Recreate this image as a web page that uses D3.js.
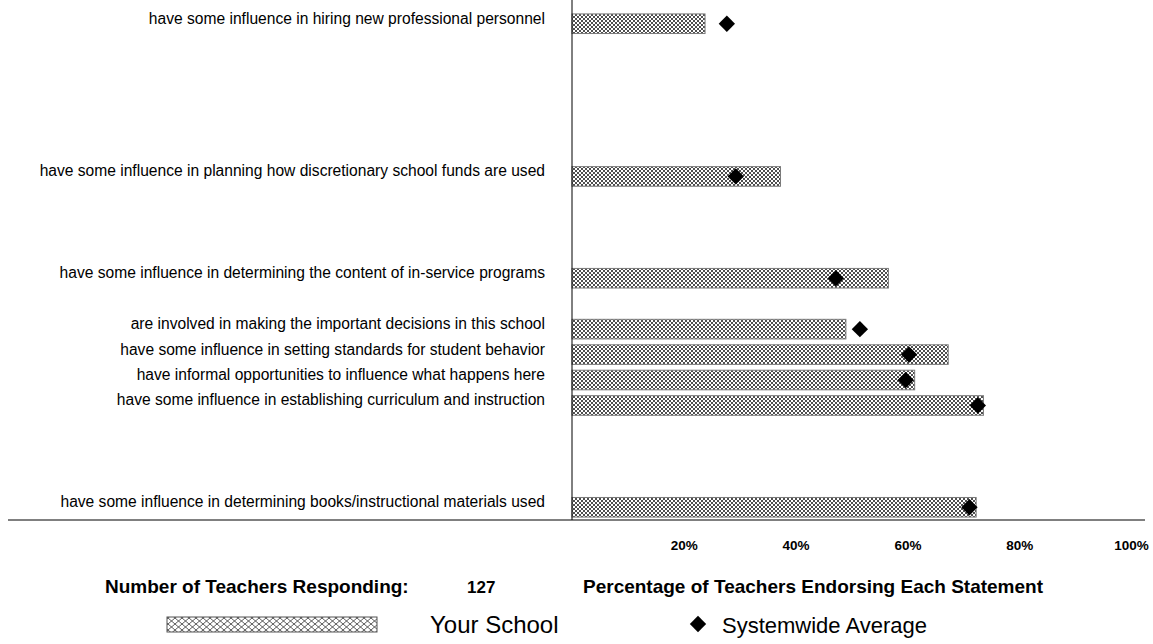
<!DOCTYPE html>
<html>
<head>
<meta charset="utf-8">
<script src="https://cdn.jsdelivr.net/npm/d3@7"></script>
<style>
body { margin: 0; background: #fff; }
text { font-family: "Liberation Sans", Arial, sans-serif; fill: #000; }
</style>
</head>
<body>
<div id="chart"></div>
<script>
// Define categories (blank slots are empty rows in the original chart)
var statements = [
    "have some influence in hiring new professional personnel",
    "", "", "", "", "",
    "have some influence in planning how discretionary school funds are used",
    "", "", "",
    "have some influence in determining the content of in-service programs",
    "",
    "are involved in making the important decisions in this school",
    "have some influence in setting standards for student behavior",
    "have informal opportunities to influence what happens here",
    "have some influence in establishing curriculum and instruction",
    "", "", "",
    "have some influence in determining books/instructional materials used"
];

// Series values (percent)
var yourSchool = [23.8, null, null, null, null, null, 37.3, null, null, null,
    56.6, null, 49.0, 67.3, 61.3, 73.6, null, null, null, 72.3];
var systemAverage = [27.7, null, null, null, null, null, 29.3, null, null, null,
    47.2, null, 51.5, 60.3, 59.7, 72.6, null, null, null, 71.1];

var tickValues = [20, 40, 60, 80, 100];
var teachersResponding = 127;

// Define height and width of svg
var svgWidth = 1153;
var svgHeight = 644;

var margin = {
    top: 11,
    right: 22,
    bottom: 124,
    left: 572
};

var width = svgWidth - margin.left - margin.right;
var height = svgHeight - margin.top - margin.bottom;

var svg = d3.select("#chart")
    .append("svg")
    .attr("width", svgWidth)
    .attr("height", svgHeight);

// Cross hatch patterns
var defs = svg.append("defs");

var hatch = defs.append("pattern")
    .attr("id", "hatch")
    .attr("patternUnits", "userSpaceOnUse")
    .attr("width", 4)
    .attr("height", 4);
hatch.append("rect").attr("width", 4).attr("height", 4).attr("fill", "#fff");
hatch.append("path")
    .attr("d", "M0,0L4,4M4,0L0,4")
    .attr("stroke", "#222")
    .attr("stroke-width", 0.8);

var hatchLegend = defs.append("pattern")
    .attr("id", "hatchLegend")
    .attr("patternUnits", "userSpaceOnUse")
    .attr("width", 7)
    .attr("height", 6);
hatchLegend.append("rect").attr("width", 7).attr("height", 6).attr("fill", "#fff");
hatchLegend.append("path")
    .attr("d", "M0,0L7,6M7,0L0,6")
    .attr("stroke", "#333")
    .attr("stroke-width", 0.8);

var chartGroup = svg.append("g")
    .attr("transform", `translate(${margin.left}, ${margin.top})`);

// Create scales
var xLinearScale = d3.scaleLinear()
    .domain([0, 100])
    .range([0, width]);

var yBandScale = d3.scaleBand()
    .domain(d3.range(statements.length))
    .range([0, height])
    .paddingInner(0.23)
    .paddingOuter(0.115);

// Rows that have data
var rows = statements.map((s, i) => ({
    label: s,
    school: yourSchool[i],
    system: systemAverage[i],
    index: i
})).filter(d => d.label !== "");

// Bars
chartGroup.selectAll("rect.bar")
    .data(rows)
    .enter()
    .append("rect")
    .classed("bar", true)
    .attr("x", xLinearScale(0))
    .attr("y", d => yBandScale(d.index))
    .attr("width", d => xLinearScale(d.school) - xLinearScale(0))
    .attr("height", yBandScale.bandwidth())
    .attr("fill", "url(#hatch)")
    .attr("stroke", "#7a7a7a")
    .attr("stroke-width", 1);

// Diamonds
var diamond = d3.symbol().type(d3.symbolDiamond2).size(170);

chartGroup.selectAll("path.avg")
    .data(rows)
    .enter()
    .append("path")
    .classed("avg", true)
    .attr("d", diamond)
    .attr("transform", d => `translate(${xLinearScale(d.system)}, ${yBandScale(d.index) + yBandScale.bandwidth() / 2})`)
    .attr("fill", "#000");

// Category labels
chartGroup.selectAll("text.label")
    .data(rows)
    .enter()
    .append("text")
    .classed("label", true)
    .attr("x", -27)
    .attr("y", d => yBandScale(d.index) + yBandScale.bandwidth() / 2)
    .attr("text-anchor", "end")
    .attr("font-size", "15.6px")
    .text(d => d.label);

// Axis lines
chartGroup.append("line")
    .attr("x1", 0).attr("x2", 0)
    .attr("y1", -margin.top).attr("y2", height)
    .attr("stroke", "#000");

chartGroup.append("line")
    .attr("x1", 8 - margin.left).attr("x2", width + 14)
    .attr("y1", height).attr("y2", height)
    .attr("stroke", "#000");

// Tick labels
var bottomAxis = d3.axisBottom(xLinearScale)
    .tickValues(tickValues)
    .tickSize(0)
    .tickPadding(20)
    .tickFormat(d => d + "%");

var axisGroup = chartGroup.append("g")
    .attr("transform", `translate(0, ${height})`)
    .call(bottomAxis);

axisGroup.select(".domain").remove();
axisGroup.selectAll("text")
    .attr("font-family", "'Liberation Sans', Arial, sans-serif")
    .attr("font-weight", "bold")
    .attr("font-size", "13.5px");

// Bottom texts
svg.append("text")
    .attr("x", 105)
    .attr("y", 593)
    .attr("font-weight", "bold")
    .attr("font-size", "19px")
    .text("Number of Teachers Responding:");

svg.append("text")
    .attr("x", 467)
    .attr("y", 593)
    .attr("font-weight", "bold")
    .attr("font-size", "17px")
    .text(teachersResponding);

svg.append("text")
    .attr("x", 583)
    .attr("y", 593)
    .attr("font-weight", "bold")
    .attr("font-size", "19px")
    .text("Percentage of Teachers Endorsing Each Statement");

// Legend
var legend = svg.append("g");

legend.append("rect")
    .attr("x", 167)
    .attr("y", 617)
    .attr("width", 210)
    .attr("height", 15)
    .attr("fill", "url(#hatchLegend)")
    .attr("stroke", "#555")
    .attr("stroke-width", 1);

legend.append("text")
    .attr("x", 430)
    .attr("y", 633)
    .attr("font-size", "24px")
    .text("Your School");

legend.append("path")
    .attr("d", diamond)
    .attr("transform", "translate(698, 624)")
    .attr("fill", "#000");

legend.append("text")
    .attr("x", 722)
    .attr("y", 633)
    .attr("font-size", "22px")
    .text("Systemwide Average");
</script>
</body>
</html>
